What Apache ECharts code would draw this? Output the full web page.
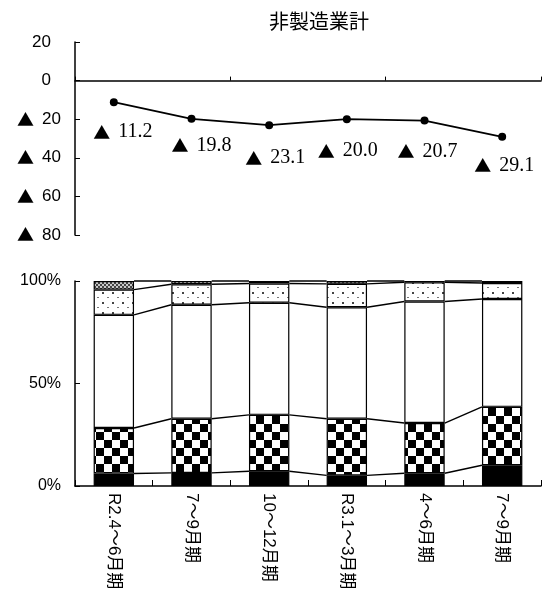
<!DOCTYPE html>
<html><head><meta charset="utf-8">
<script src="https://cdn.jsdelivr.net/npm/echarts@6.0.0/dist/echarts.min.js"></script>
<style>html,body{margin:0;padding:0;background:#fff}#c{width:548px;height:604px}</style>
</head><body><div id="c"></div>
<script>
// ---- data ----
const categories = ['R2.4～6月期','7～9月期','10～12月期','R3.1～3月期','4～6月期','7～9月期'];
const diValues = [-11.2, -19.8, -23.1, -20.0, -20.7, -29.1];
const shareBlack   = [6.1, 6.4, 7.2, 5.2, 6.2, 10.1];
const shareChecker = [22.2, 26.4, 27.5, 27.6, 24.5, 28.5];
const shareWhite   = [55.2, 55.6, 54.7, 54.4, 59.3, 52.6];
const shareDotted  = [12.3, 10.0, 9.4, 11.4, 9.4, 7.8];
const shareGray    = [4.2, 1.6, 1.2, 1.4, 0.6, 1.0];
const titleText = '非製造業計';

// ---- layout (label nudges, not data) ----
const labelDx = [9, 10, 6, 1, 3, 2];
const labelDy = [30, 27, 33, 32, 31, 29];

function tile(w, h, draw) {
  const c = document.createElement('canvas');
  c.width = w; c.height = h;
  draw(c.getContext('2d'), w, h);
  return { image: c, repeat: 'repeat' };
}
const pChecker = tile(16, 16, (g) => {
  g.fillStyle = '#fff'; g.fillRect(0, 0, 16, 16);
  g.fillStyle = '#000'; g.fillRect(0, 0, 8, 8); g.fillRect(8, 8, 8, 8);
});
const pDotted = tile(10, 10, (g) => {
  g.fillStyle = '#fff'; g.fillRect(0, 0, 10, 10);
  g.fillStyle = '#444'; g.fillRect(2, 2, 2, 2);
  g.fillStyle = '#777'; g.fillRect(7, 7, 2, 1);
});
const pGray = tile(4, 4, (g) => {
  g.fillStyle = '#c8c8c8'; g.fillRect(0, 0, 4, 4);
  g.fillStyle = '#444'; g.fillRect(0, 0, 2, 2); g.fillRect(2, 2, 2, 2);
});

const segs = [shareBlack, shareChecker, shareWhite, shareDotted, shareGray];
const segColors = [ '#000', pChecker, '#fff', pDotted, pGray ];

function cumAt(i) {
  const out = []; let s = 0;
  for (const arr of segs) { s += arr[i]; out.push(s); }
  return out;
}

const sansFont = "'Liberation Sans','Noto Sans CJK JP',sans-serif";
const cjkFont = "'Noto Sans CJK JP',sans-serif";

const chart = echarts.init(document.getElementById('c'), null, { renderer: 'canvas' });

const barSeries = segs.map((arr, k) => ({
  type: 'bar', stack: 'share', xAxisIndex: 1, yAxisIndex: 1,
  barWidth: '52%',
  data: arr,
  itemStyle: { color: segColors[k], borderColor: '#000', borderWidth: 1.2 },
  silent: true
}));

const option = {
  animation: false,
  backgroundColor: '#fff',
  title: {
    text: titleText, left: 264, top: 6,
    textStyle: { fontFamily: cjkFont, fontSize: 20, fontWeight: 'normal', color: '#000' }
  },
  grid: [
    { left: 75, right: 7, top: 42, height: 193 },
    { left: 75, right: 7, top: 281, height: 205 }
  ],
  xAxis: [
    {
      type: 'category', gridIndex: 0, data: categories, boundaryGap: true,
      axisLine: { onZero: true, lineStyle: { color: '#000', width: 1.6 } },
      axisTick: { show: true, inside: true, length: 4, lineStyle: { color: '#000' } },
      axisLabel: { show: false }, splitLine: { show: false }
    },
    {
      type: 'category', gridIndex: 1, data: categories, boundaryGap: true,
      axisLine: { lineStyle: { color: '#000', width: 1.5 } },
      axisTick: { show: true, inside: true, length: 6, lineStyle: { color: '#000' } },
      axisLabel: { rotate: -90, margin: 7, color: '#000', fontSize: 17, fontFamily: sansFont, interval: 0 },
      splitLine: { show: false }
    }
  ],
  yAxis: [
    {
      type: 'value', gridIndex: 0, min: -80, max: 20, interval: 20,
      axisLine: { show: true, lineStyle: { color: '#000', width: 1.5 } },
      axisTick: { show: true, inside: true, length: 5, lineStyle: { color: '#000' } },
      splitLine: { show: false },
      axisLabel: {
        margin: 14, color: '#000',
        formatter: (v) => v < 0 ? '{t|▲}{n|' + (-v) + '}' : '{n|' + v + '}{p|}',
        rich: {
          t: { fontFamily: cjkFont, fontSize: 17, padding: [0, 8, 0, 0], color: '#000' },
          n: { fontFamily: sansFont, fontSize: 17, color: '#000' },
          p: { width: 10 }
        }
      }
    },
    {
      type: 'value', gridIndex: 1, min: 0, max: 100, interval: 50,
      axisLine: { show: true, lineStyle: { color: '#000', width: 1.5 } },
      axisTick: { show: true, inside: true, length: 5, lineStyle: { color: '#000' } },
      splitLine: { show: false },
      axisLabel: { margin: 14, color: '#000', fontSize: 16, fontFamily: sansFont, formatter: '{value}%' }
    }
  ],
  series: [
    {
      type: 'line', xAxisIndex: 0, yAxisIndex: 0,
      data: diValues.map((v, i) => ({
        value: v,
        label: { offset: [labelDx[i], labelDy[i]] }
      })),
      lineStyle: { color: '#000', width: 1.8 },
      itemStyle: { color: '#000' },
      symbol: 'circle', symbolSize: 8,
      label: {
        show: true, position: 'inside',
        formatter: (p) => '{t|▲}{n|' + Math.abs(p.value).toFixed(1) + '}',
        rich: {
          t: { fontFamily: cjkFont, fontSize: 17, color: '#000', padding: [0, 8, 0, 0] },
          n: { fontFamily: "'Liberation Serif','DejaVu Serif',serif", fontSize: 20, color: '#000' }
        }
      }
    },
    ...barSeries,
    {
      type: 'custom', xAxisIndex: 1, yAxisIndex: 1,
      data: categories.slice(0, -1).map((c, i) => [i, 0]),
      encode: { x: 0, y: 1 },
      silent: true, z: 5,
      renderItem: (params, api) => {
        const i = params.dataIndex;
        const a = cumAt(i), b = cumAt(i + 1);
        const half = api.size([1, 0])[0] * 0.26;
        const children = a.map((lv, k) => {
          const p1 = api.coord([i, lv]);
          const p2 = api.coord([i + 1, b[k]]);
          return {
            type: 'line',
            shape: { x1: p1[0] + half, y1: p1[1], x2: p2[0] - half, y2: p2[1] },
            style: { stroke: '#000', lineWidth: 1.4 }
          };
        });
        return { type: 'group', children };
      }
    }
  ]
};
chart.setOption(option);
</script>
</body></html>
